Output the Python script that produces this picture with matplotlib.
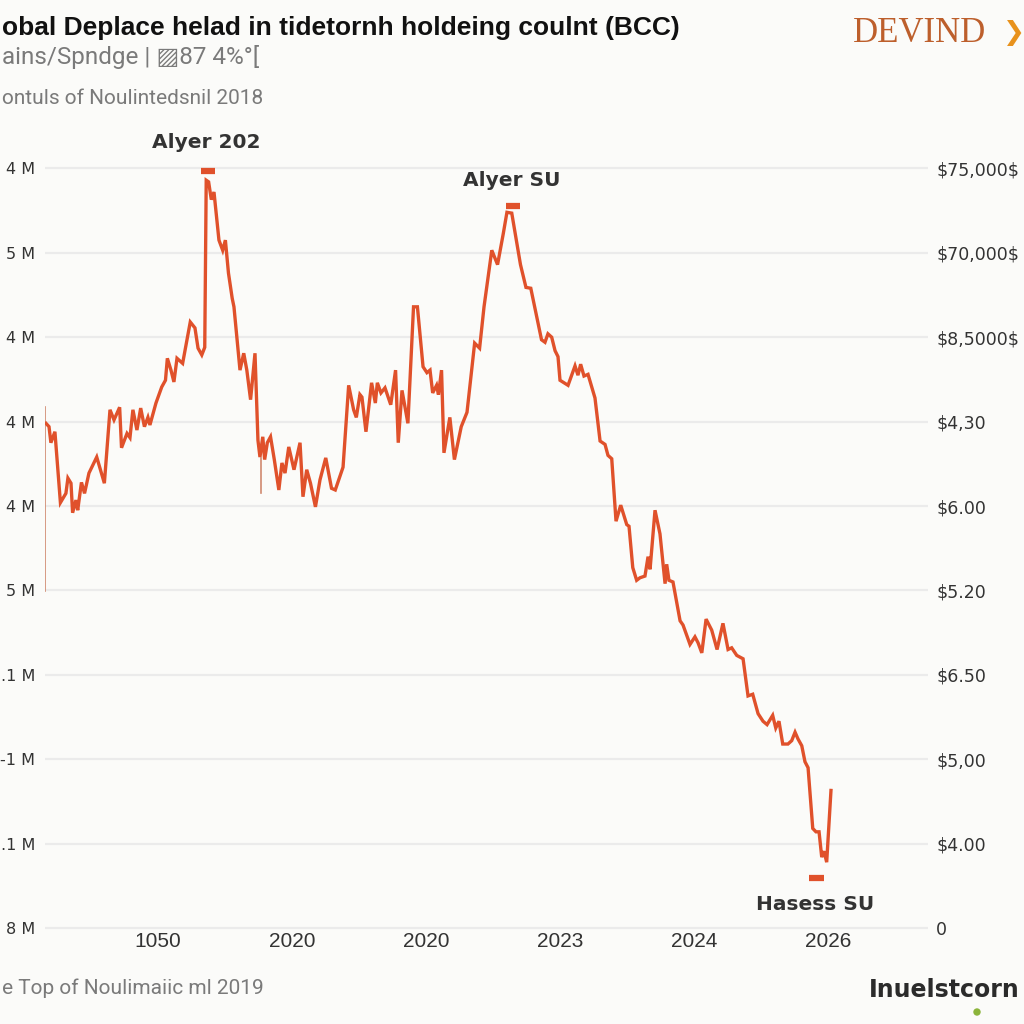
import matplotlib
matplotlib.use("Agg")
import matplotlib.pyplot as plt

# ---------------- data ----------------
x_vals = [-0.836, -0.813, -0.799, -0.769, -0.728, -0.687, -0.672, -0.649, -0.637, -0.612,
          -0.599, -0.571, -0.548, -0.515, -0.457, -0.400, -0.358, -0.328, -0.286, -0.272,
          -0.231, -0.209, -0.187, -0.157, -0.129, -0.101, -0.075, -0.060, -0.015, 0.028,
          0.056, 0.070, 0.097, 0.119, 0.142, 0.184, 0.241, 0.276, 0.299, 0.327,
          0.349, 0.360, 0.378, 0.398, 0.418, 0.455, 0.483, 0.503, 0.526, 0.554,
          0.567, 0.612, 0.640, 0.663, 0.691, 0.724, 0.746, 0.761, 0.782, 0.796,
          0.816, 0.840, 0.868, 0.902, 0.925, 0.948, 0.976, 1.015, 1.060, 1.082,
          1.110, 1.138, 1.175, 1.209, 1.252, 1.295, 1.323, 1.381, 1.423, 1.460,
          1.480, 1.507, 1.522, 1.552, 1.594, 1.622, 1.637, 1.664, 1.694, 1.737,
          1.773, 1.793, 1.821, 1.865, 1.907, 1.936, 1.978, 2.007, 2.030, 2.050,
          2.079, 2.093, 2.116, 2.134, 2.178, 2.212, 2.263, 2.306, 2.363, 2.400,
          2.433, 2.491, 2.534, 2.577, 2.604, 2.640, 2.705, 2.746, 2.782, 2.862,
          2.888, 2.910, 2.938, 2.963, 2.985, 3.000, 3.060, 3.112, 3.134, 3.154,
          3.179, 3.209, 3.237, 3.261, 3.299, 3.336, 3.358, 3.386, 3.418, 3.453,
          3.498, 3.515, 3.543, 3.572, 3.597, 3.634, 3.657, 3.672, 3.709, 3.746,
          3.784, 3.796, 3.813, 3.843, 3.896, 3.918, 3.970, 4.007, 4.030, 4.058,
          4.090, 4.132, 4.172, 4.216, 4.254, 4.281, 4.319, 4.366, 4.403, 4.438,
          4.478, 4.515, 4.545, 4.587, 4.610, 4.634, 4.662, 4.701, 4.729, 4.754,
          4.776, 4.804, 4.828, 4.851, 4.886, 4.910, 4.933, 4.953, 4.970, 4.990,
          5.022]
y_vals = [5.98, 5.94, 5.75, 5.88, 5.04, 5.15, 5.33, 5.27, 4.92, 5.07,
          4.95, 5.28, 5.15, 5.39, 5.58, 5.27, 6.14, 6.02, 6.17, 5.69,
          5.86, 5.81, 6.14, 5.90, 6.16, 5.94, 6.05, 5.96, 6.22, 6.41,
          6.49, 6.75, 6.61, 6.47, 6.75, 6.69, 7.18, 7.11, 6.87, 6.79,
          6.88, 8.86, 8.84, 8.63, 8.72, 8.15, 8.03, 8.15, 7.76, 7.46,
          7.36, 6.61, 6.81, 6.61, 6.26, 6.81, 5.78, 5.58, 5.82, 5.55,
          5.75, 5.82, 5.55, 5.19, 5.51, 5.39, 5.70, 5.43, 5.75, 5.11,
          5.43, 5.27, 4.99, 5.31, 5.57, 5.21, 5.19, 5.46, 6.43, 6.14,
          6.05, 6.32, 6.29, 5.88, 6.46, 6.22, 6.46, 6.34, 6.40, 6.20,
          6.61, 5.75, 6.37, 5.98, 7.36, 7.36, 6.65, 6.58, 6.61, 6.34,
          6.43, 6.32, 6.61, 5.63, 6.05, 5.55, 5.94, 6.11, 6.93, 6.87,
          7.36, 8.03, 7.86, 8.23, 8.48, 8.47, 7.86, 7.59, 7.58, 6.97,
          6.94, 7.04, 7.00, 6.84, 6.77, 6.49, 6.43, 6.66, 6.55, 6.68,
          6.54, 6.56, 6.41, 6.28, 5.77, 5.73, 5.60, 5.56, 4.82, 5.01,
          4.78, 4.76, 4.27, 4.12, 4.15, 4.17, 4.40, 4.25, 4.95, 4.67,
          4.08, 4.31, 4.12, 4.10, 3.64, 3.59, 3.36, 3.45, 3.38, 3.26,
          3.66, 3.53, 3.30, 3.61, 3.30, 3.32, 3.23, 3.19, 2.75, 2.77,
          2.54, 2.45, 2.41, 2.52, 2.37, 2.45, 2.18, 2.18, 2.22, 2.32,
          2.24, 2.16, 1.97, 1.90, 1.18, 1.14, 1.14, 0.84, 0.91, 0.78,
          1.63]

x_tick_labels = ["1050", "2020", "2020", "2023", "2024", "2026"]
left_labels = ["8 M", ".1 M", "-1 M", ".1 M", "5 M", "4 M", "4 M", "4 M", "5 M", "4 M"]
right_labels = ["0", r"\$4.00", r"\$5,00", r"\$6.50", r"\$5.20", r"\$6.00", r"\$4,30",
                r"\$8,5000\$", r"\$70,000\$", r"\$75,000\$"]

peak_labels = ["Alyer 202", "Alyer SU", "Hasess SU"]
peak_label_x = [0.358, 2.642, 4.903]
peak_label_y = [9.31, 8.86, 0.28]
marker_x = [0.373, 2.649, 4.914]
marker_y = [8.97, 8.55, 0.59]

# thin artifact strokes
stroke_x = [-0.843, 0.769]
stroke_y0 = [6.17, 5.57]
stroke_y1 = [3.99, 5.15]

# ---------------- style ----------------
BG = "#fbfbf9"
LINE = "#e0512b"
GRID = "#ebebeb"
TXT = "#333333"
GRAY = "#7a7a7a"

fig = plt.figure(figsize=(10.24, 10.24), dpi=100, facecolor=BG)
ax = fig.add_axes([45 / 1024, 1 - 932 / 1024, (928 - 45) / 1024, (932 - 150) / 1024])
ax.set_facecolor(BG)
ax.set_xlim(-0.843, 5.746)
ax.set_ylim(-0.047, 9.218)

for s in ax.spines.values():
    s.set_visible(False)

ax.set_yticks(range(10))
ax.set_yticklabels(left_labels, fontsize=11.5, color=TXT, family="DejaVu Sans")
ax.tick_params(axis="y", length=0, pad=7)
ax.grid(axis="y", color=GRID, linewidth=1.6)
ax.set_axisbelow(True)

ax.set_xticks(range(6))
ax.set_xticklabels(x_tick_labels, fontsize=15, color=TXT,
                   family=["Liberation Sans", "DejaVu Sans"])
ax.tick_params(axis="x", length=0, pad=0)

ax2 = ax.twinx()
ax2.set_ylim(ax.get_ylim())
for s in ax2.spines.values():
    s.set_visible(False)
ax2.set_yticks(range(10))
ax2.set_yticklabels(right_labels, fontsize=12.5, color=TXT, family="DejaVu Sans")
ax2.tick_params(axis="y", length=0, pad=6)

# artifact strokes
for sx, a, b in zip(stroke_x, stroke_y0, stroke_y1):
    ax.plot([sx, sx], [a, b], color="#d08a70", lw=1.2, zorder=2)

ax.plot(x_vals, y_vals, color=LINE, lw=2.4, solid_joinstyle="miter", zorder=3)

for mx, my in zip(marker_x, marker_y):
    ax.plot([mx - 0.055, mx + 0.055], [my, my], color=LINE, lw=4.5,
            solid_capstyle="butt", zorder=4, clip_on=False)

for t, tx, ty in zip(peak_labels, peak_label_x, peak_label_y):
    ax.text(tx, ty, t, ha="center", va="center", fontsize=14.5, color=TXT,
            fontweight="semibold", family="DejaVu Sans", clip_on=False)

# ---------------- texts ----------------
fig.text(2 / 1024, 1 - 28 / 1024, "obal Deplace helad in tidetornh holdeing coulnt (BCC)",
         fontsize=19, fontweight="bold", color="#111111", va="center", ha="left",
         family=["Liberation Sans", "DejaVu Sans"])
fig.text(2 / 1024, 1 - 57 / 1024, "ains/Spndge | \u25a887 4%\u00b0[",
         fontsize=17.5, color=GRAY, va="center", ha="left",
         family=["Roboto", "DejaVu Sans"])
fig.text(2 / 1024, 1 - 99 / 1024, "ontuls of Noulintedsnil 2018",
         fontsize=15, color=GRAY, va="center", ha="left",
         family=["Roboto", "DejaVu Sans"])
fig.text(2 / 1024, 1 - 988 / 1024, "e Top of Noulimaiic ml 2019",
         fontsize=15, color=GRAY, va="center", ha="left",
         family=["Roboto", "DejaVu Sans"])

fig.text(853 / 1024, 1 - 33 / 1024, "DEVIND", fontsize=25, color="#bd5f2c",
         va="center", ha="left", family=["Liberation Serif", "DejaVu Serif"])
fig.text(1003 / 1024, 1 - 33 / 1024, "\u276f", fontsize=19, color="#e8921c",
         va="center", ha="left", family="DejaVu Sans", fontweight="bold")

fig.text(869 / 1024, 1 - 990 / 1024, "Inuelstcorn", fontsize=17, color="#2b2b2b",
         fontweight="bold", va="center", ha="left", family="DejaVu Sans")
fig.patches.append(matplotlib.patches.Circle((977 / 1024, 1 - 1012 / 1024), 3 / 1024,
                                             transform=fig.transFigure, color="#8bb43a"))

fig.savefig("out.png", dpi=100, facecolor=BG)
